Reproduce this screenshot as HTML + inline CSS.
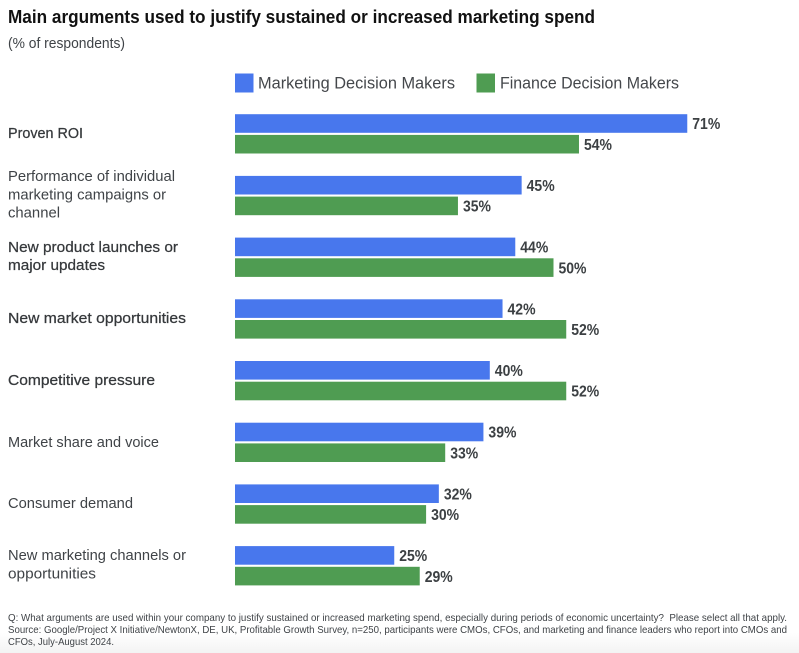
<!DOCTYPE html>
<html lang="en">
<head>
<meta charset="utf-8">
<title>Main arguments used to justify sustained or increased marketing spend</title>
<style>
html,body{margin:0;padding:0;background:#fff;}
body{width:799px;height:653px;overflow:hidden;}
svg{display:block;font-family:"Liberation Sans",sans-serif;}
.cat{font-size:15px;fill:#3f4347;}
.cat-strong{font-size:15px;fill:#35383b;stroke:#35383b;stroke-width:.25px;}
.foot{font-size:10.5px;fill:#3f4347;}
.leg{font-size:17px;fill:#44474b;}
.val{font-size:15.500px;font-weight:bold;fill:#3c4043;}
</style>
</head>
<body>
<svg id="chart" width="799" height="653" viewBox="0 0 799 653" xmlns="http://www.w3.org/2000/svg">
  <defs>
    <linearGradient id="bottom-fade" x1="0" y1="0" x2="0" y2="1">
      <stop offset="0" stop-color="#ffffff"/>
      <stop offset="1" stop-color="#f3f3f3"/>
    </linearGradient>
  </defs>
  <rect x="0" y="633" width="799" height="20" fill="url(#bottom-fade)"/>

  <text x="8" y="23" font-size="18px" font-weight="bold" fill="#111" textLength="587" lengthAdjust="spacingAndGlyphs">Main arguments used to justify sustained or increased marketing spend</text>
  <text x="8" y="48" font-size="14.500px" fill="#3f4347" textLength="117" lengthAdjust="spacingAndGlyphs">(% of respondents)</text>

  <g>
    <rect x="235" y="73.500" width="18.500" height="19" fill="#4877ed"/>
    <text class="leg" x="258" y="88.500" textLength="197" lengthAdjust="spacingAndGlyphs">Marketing Decision Makers</text>
    <rect x="476.500" y="73.500" width="18.500" height="19" fill="#4f9c52"/>
    <text class="leg" x="500" y="88.500" textLength="179" lengthAdjust="spacingAndGlyphs">Finance Decision Makers</text>
  </g>

  <g>
    <text class="cat-strong" x="8" y="138" textLength="75" lengthAdjust="spacingAndGlyphs">Proven ROI</text>
    <text class="cat" x="8" y="181" textLength="167" lengthAdjust="spacingAndGlyphs">Performance of individual</text>
    <text class="cat" x="8" y="199.500" textLength="158" lengthAdjust="spacingAndGlyphs">marketing campaigns or</text>
    <text class="cat" x="8" y="217.500" textLength="52" lengthAdjust="spacingAndGlyphs">channel</text>
    <text class="cat-strong" x="8" y="252" textLength="170" lengthAdjust="spacingAndGlyphs">New product launches or</text>
    <text class="cat-strong" x="8" y="270" textLength="97" lengthAdjust="spacingAndGlyphs">major updates</text>
    <text class="cat-strong" x="8" y="323" textLength="178" lengthAdjust="spacingAndGlyphs">New market opportunities</text>
    <text class="cat-strong" x="8" y="385" textLength="147" lengthAdjust="spacingAndGlyphs">Competitive pressure</text>
    <text class="cat" x="8" y="447" textLength="151" lengthAdjust="spacingAndGlyphs">Market share and voice</text>
    <text class="cat" x="8" y="508" textLength="125" lengthAdjust="spacingAndGlyphs">Consumer demand</text>
    <text class="cat" x="8" y="560" textLength="178" lengthAdjust="spacingAndGlyphs">New marketing channels or</text>
    <text class="cat" x="8" y="578.500" textLength="88" lengthAdjust="spacingAndGlyphs">opportunities</text>
  </g>

  <g id="bars"></g>

  <g>
    <text class="foot" xml:space="preserve" x="8" y="621" textLength="779" lengthAdjust="spacingAndGlyphs">Q: What arguments are used within your company to justify sustained or increased marketing spend, especially during periods of economic uncertainty?  Please select all that apply.</text>
    <text class="foot" x="8" y="633" textLength="779" lengthAdjust="spacingAndGlyphs">Source: Google/Project X Initiative/NewtonX, DE, UK, Profitable Growth Survey, n=250, participants were CMOs, CFOs, and marketing and finance leaders who report into CMOs and</text>
    <text class="foot" x="8" y="645" textLength="106" lengthAdjust="spacingAndGlyphs">CFOs, July-August 2024.</text>
  </g>
</svg>
<script>
var categories = ["Proven ROI", "Performance of individual marketing campaigns or channel", "New product launches or major updates", "New market opportunities", "Competitive pressure", "Market share and voice", "Consumer demand", "New marketing channels or opportunities"];
var marketingValues = [71, 45, 44, 42, 40, 39, 32, 25];
var financeValues = [54, 35, 50, 52, 52, 33, 30, 29];

function xScale(value) { return 6.37 * value; }
function rowTop(index) { return 114.2 + 61.7 * index; }

var NS = "http://www.w3.org/2000/svg";
var group = document.getElementById("bars");

function drawBar(value, index, offset, color, seriesName) {
  var bar = document.createElementNS(NS, "rect");
  
  
  bar.setAttribute("x", 235);
  bar.setAttribute("y", rowTop(index) + offset);
  bar.setAttribute("width", xScale(value));
  bar.setAttribute("height", 18.6);
  bar.setAttribute("fill", color);
  var title = document.createElementNS(NS, "title");
  title.textContent = categories[index] + ": " + value + "%";
  bar.appendChild(title);
  group.appendChild(bar);

  var label = document.createElementNS(NS, "text");
  
  
  label.setAttribute("class", "val");
  label.setAttribute("x", 235 + xScale(value) + 5);
  label.setAttribute("y", rowTop(index) + offset + 15);
  label.setAttribute("textLength", "28");
  label.setAttribute("lengthAdjust", "spacingAndGlyphs");
  label.textContent = value + "%";
  group.appendChild(label);
}

categories.forEach(function (name, i) {
  drawBar(marketingValues[i], i, 0, "#4877ed", "marketing");
  drawBar(financeValues[i], i, 20.7, "#4f9c52", "finance");
});
</script>
</body>
</html>
